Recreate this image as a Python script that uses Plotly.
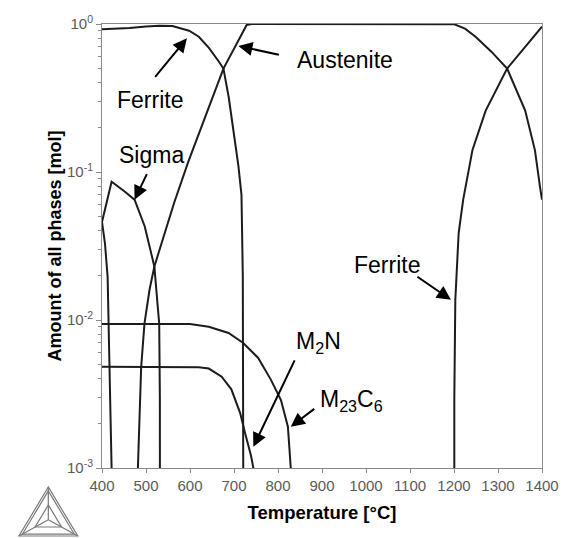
import math
import plotly.graph_objects as go

# ---- Phase amounts (mol) vs temperature (°C) ----
# A trailing 1e-5 point sends a phase boundary straight down past the axis floor.
ferrite_low_T = [400, 430, 463, 500, 530, 560, 575, 598, 620, 643, 665, 676, 688, 699, 710, 717, 720, 721, 721]
ferrite_low_v = [0.92, 0.925, 0.94, 0.96, 0.975, 0.97, 0.94, 0.90, 0.82, 0.69, 0.56, 0.50, 0.32, 0.186, 0.11, 0.07, 0.02, 0.001, 1e-5]

ferrite_high_T = [1200.7, 1200.7, 1200.7, 1203, 1210.6, 1220.9, 1242, 1272, 1320.7, 1361.8, 1400]
ferrite_high_v = [1e-5, 0.001, 0.0029, 0.0137, 0.0387, 0.065, 0.141, 0.26, 0.50, 0.70, 0.96]

austenite_T = [481.6, 481.6, 489, 496.6, 508, 519, 564, 596, 676, 702.7, 728.8, 740,
               1195, 1201, 1225, 1249, 1285, 1320.7, 1361.8, 1384, 1395.5, 1400]
austenite_v = [1e-5, 0.001, 0.0048, 0.0095, 0.016, 0.023, 0.062, 0.117, 0.50, 0.70, 0.985, 1.0,
               1.0, 0.995, 0.93, 0.82, 0.65, 0.50, 0.26, 0.14, 0.079, 0.065]

sigma_T = [400, 411, 421.8, 450, 474, 497, 519, 527, 530, 531.5, 532, 532]
sigma_v = [0.046, 0.063, 0.086, 0.0745, 0.065, 0.043, 0.023, 0.012, 0.0095, 0.003, 0.001, 1e-5]

unlabelled_T = [400, 406.7, 412.8, 414, 414.5, 418, 421.8, 421.8]
unlabelled_v = [0.046, 0.033, 0.0195, 0.0137, 0.0095, 0.0034, 0.001, 1e-5]

m23c6_T = [400, 600, 642.7, 687.6, 721, 755, 784, 806.7, 822.5, 829, 829]
m23c6_v = [0.0094, 0.0094, 0.0090, 0.00817, 0.0070, 0.00554, 0.00394, 0.00288, 0.0019, 0.001, 1e-5]

m2n_T = [400, 620, 642.7, 672, 694, 714, 725, 739, 744, 744]
m2n_v = [0.00483, 0.0048, 0.0047, 0.00414, 0.0034, 0.00235, 0.00173, 0.0012, 0.001, 1e-5]

x_ticks = list(range(400, 1401, 100))
y_ticks = [0.001, 0.01, 0.1, 1]
y_tick_text = ["10<sup>-3</sup>", "10<sup>-2</sup>", "10<sup>-1</sup>", "10<sup>0</sup>"]
y_minor = [m * 10.0 ** e for e in (-3, -2, -1) for m in range(2, 10)]

# Labels: (text, arrow tip T, arrow tip amount, tail dx, tail dy, label T, label amount)
labels = [
    ("Ferrite", 593, 0.80, -33, 40, 510, 0.306),
    ("Austenite", 710, 0.71, 42, 9, 953, 0.571),
    ("Sigma", 474, 0.065, 13, -27, 512, 0.130),
    ("Ferrite", 1193, 0.0137, -35, -24, 1047, 0.0235),
    ("M<sub>2</sub>N", 744, 0.00139, 42, -88, 892, 0.0070),
    ("M<sub>23</sub>C<sub>6</sub>", 829, 0.0019, 25, -19, 968, 0.00288),
]

LINE = "#1c1c1c"
FRAME = "#8a8a8a"
FONT = "Arial, Liberation Sans, sans-serif"

fig = go.Figure()
curves = [
    ("Ferrite", ferrite_low_T, ferrite_low_v),
    ("Ferrite", ferrite_high_T, ferrite_high_v),
    ("Austenite", austenite_T, austenite_v),
    ("Sigma", sigma_T, sigma_v),
    ("Other", unlabelled_T, unlabelled_v),
    ("M23C6", m23c6_T, m23c6_v),
    ("M2N", m2n_T, m2n_v),
]
for name, xs, ys in curves:
    fig.add_trace(go.Scatter(x=xs, y=ys, mode="lines", name=name,
                             line=dict(color=LINE, width=2), showlegend=False,
                             hoverinfo="skip"))

for text, tx, tv, dx, dy, lx, lv in labels:
    fig.add_annotation(x=tx, y=math.log10(tv), ax=dx, ay=dy, text="",
                       showarrow=True, arrowhead=2, arrowsize=1.4, arrowwidth=2,
                       arrowcolor="#000")
    fig.add_annotation(x=lx, y=math.log10(lv), text=text, showarrow=False,
                       font=dict(family=FONT, size=23, color="#000"))

# Thermo-Calc style logo in the lower-left corner (pixel coordinates -> paper)
L, R, T, B = 102, 547, 24, 468
def px(x, y):
    return (x - L) / (R - L), (B - y) / (B - T)

def tri_path(pts):
    p = [px(*q) for q in pts]
    return "M {} {} L {} {} L {} {} Z".format(p[0][0], p[0][1], p[1][0], p[1][1], p[2][0], p[2][1])

apex, bl, br = (47.7, 487), (18, 536), (77.5, 536)
cx, cy = (apex[0] + bl[0] + br[0]) / 3, (apex[1] + bl[1] + br[1]) / 3
def toward(p, f):
    return (p[0] + (cx - p[0]) * f, p[1] + (cy - p[1]) * f)

logo_paths = [tri_path([apex, bl, br]),
              tri_path([toward(apex, 0.12), toward(bl, 0.12), toward(br, 0.12)]),
              tri_path([toward(apex, 0.55), toward(bl, 0.55), toward(br, 0.55)])]
for v in (apex, bl, br):
    a, b = px(*v), px(cx, cy)
    logo_paths.append("M {} {} L {} {}".format(a[0], a[1], b[0], b[1]))
for path in logo_paths:
    fig.add_shape(type="path", path=path, xref="paper", yref="paper",
                  line=dict(color="#7a7a7a", width=1.2), layer="above")

fig.update_layout(
    width=571, height=538,
    margin=dict(l=102, r=24, t=24, b=70),
    paper_bgcolor="white", plot_bgcolor="white",
    font=dict(family=FONT, color="#555"),
)
fig.update_xaxes(
    range=[400, 1400], tickvals=x_ticks, ticks="outside", ticklen=4, tickcolor=FRAME,
    showline=True, linecolor=FRAME, linewidth=1, mirror=True, showgrid=False, zeroline=False,
    tickfont=dict(size=15, color="#5a5a5a"),
    title=dict(text="<b>Temperature [°C]</b>", font=dict(size=18.5, color="#000"), standoff=13),
)
fig.update_yaxes(
    type="log", range=[-3, 0], tickvals=y_ticks, ticktext=y_tick_text,
    ticks="outside", ticklen=5, tickcolor=FRAME,
    minor=dict(tickvals=y_minor, ticks="outside", ticklen=3, tickcolor=FRAME),
    showline=True, linecolor=FRAME, linewidth=1, mirror=True, showgrid=False, zeroline=False,
    tickfont=dict(size=15, color="#5a5a5a"),
    title=dict(text="<b>Amount of all phases [mol]</b>", font=dict(size=18, color="#000"), standoff=0),
)

fig.write_html("out.html")
